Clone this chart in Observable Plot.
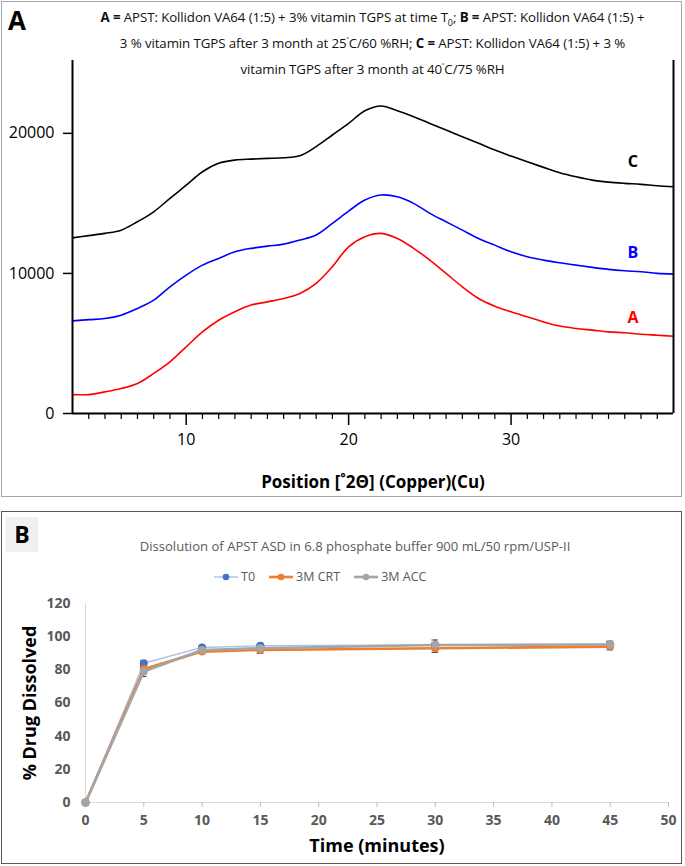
<!DOCTYPE html>
<html><head><meta charset="utf-8">
<script src="https://cdn.jsdelivr.net/npm/d3@7"></script>
<script src="https://cdn.jsdelivr.net/npm/@observablehq/plot@0.6"></script>
<style>
body{margin:0;background:#fff;font-family:"Open Sans",sans-serif;}
#page{position:relative;width:685px;height:866px;overflow:hidden;background:#fff;}
.abs{position:absolute;}
#boxA{left:1px;top:1px;width:679px;height:494px;border:1.5px solid #a6a6a6;}
#boxB{left:1px;top:511px;width:679px;height:351px;border:1.5px solid #595959;}
#letterA{left:8px;top:2px;font:bold 26px "Open Sans",sans-serif;color:#000;}
#letterB{left:6px;top:517px;width:32px;height:35px;background:#f0f0f0;font:bold 23px "Open Sans",sans-serif;color:#000;text-align:center;line-height:35px;}
.tA{left:60px;width:625px;text-align:center;font-size:13.3px;color:#111;white-space:nowrap;letter-spacing:-0.1px;}
#titleB{left:60px;width:590px;top:537px;text-align:center;font-size:13.1px;color:#595959;white-space:nowrap;letter-spacing:0px;}
#legendB{left:214px;top:568px;display:flex;gap:14px;font-size:12.5px;color:#595959;}
#legendB .it{display:flex;align-items:center;gap:3px;}
svg{overflow:visible;}
</style>
</head><body>
<div id="page">
  <div id="boxA" class="abs"></div>
  <div id="boxB" class="abs"></div>
  <div id="chartA" class="abs" style="left:0;top:0;"></div>
  <div id="chartB" class="abs" style="left:0;top:512px;"></div>
  <div id="letterA" class="abs">A</div>
  <div class="abs tA" style="top:8px;"><b>A =</b> APST: Kollidon VA64 (1:5) + 3% vitamin TGPS at time T<sub style="font-size:9px">0</sub>; <b>B =</b> APST: Kollidon VA64 (1:5) +</div>
  <div class="abs tA" style="top:34px;">3 % vitamin TGPS after 3 month at 25<sup style="font-size:8px">˚</sup>C/60 %RH; <b>C =</b> APST: Kollidon VA64 (1:5) + 3 %</div>
  <div class="abs tA" style="top:60px;">vitamin TGPS after 3 month at 40<sup style="font-size:8px">˚</sup>C/75 %RH</div>
  <div id="letterB" class="abs">B</div>
  <div id="titleB" class="abs">Dissolution of APST ASD in 6.8 phosphate buffer 900 mL/50 rpm/USP-II</div>
  <div id="legendB" class="abs"></div>
</div>
<script>
// ---------- Panel A: XRD data (2θ positions, counts) ----------
const angle = [3,4,5,6,7,8,9,10,11,12,13,14,15,16,17,18,19,20,21,22,23,24,25,26,27,28,29,30,31,32,33,34,35,36,37,38,39,40];
const countsA = [1350,1350,1545,1785,2140,2860,3690,4760,5830,6660,7260,7740,7970,8210,8570,9290,10480,11900,12620,12860,12500,11790,10950,10000,9040,8210,7660,7260,6900,6540,6240,6070,5950,5830,5760,5660,5590,5520];
const countsB = [6610,6700,6780,7020,7500,8090,9040,9880,10590,11070,11540,11790,11950,12090,12380,12740,13570,14450,15240,15600,15470,15000,14290,13690,13090,12500,12020,11540,11190,10950,10760,10590,10430,10290,10190,10120,10000,9950];
const countsC = [12540,12700,12860,13090,13690,14400,15360,16300,17260,17860,18090,18160,18210,18260,18400,19050,19880,20710,21610,21950,21610,21190,20710,20240,19760,19290,18810,18380,17970,17570,17190,16900,16660,16520,16430,16360,16260,16190];
const seriesA = ["A","B","C"];
const colorsA = ["#ff0000","#0000ff","#000000"];
const labelPosX = [37.5,37.5,37.5];
const labelPosY = [6800,11450,17950];
const yTicksA = [0,10000,20000];
const xMajorA = [10,20,30];
const xMinorA = [4,5,6,7,8,9,11,12,13,14,15,16,17,18,19,21,22,23,24,25,26,27,28,29,31,32,33,34,35,36,37,38,39];
const xDomainA = [3,40];
const yDomainA = [0,25200];
const xLabelA = "Position [˚2Θ] (Copper)(Cu)";

// ---------- Panel B: dissolution data ----------
const timeMin = [0,5,10,15,30,45];
const seriesB = ["T0","3M CRT","3M ACC"];
const meanT0  = [0,84,93.5,94.5,95,95.3];
const meanCRT = [0,80.5,91,92,93,94];
const meanACC = [0,79,92,93,95,95.3];
const sdT0  = [0,1.5,1,1,1.5,1.5];
const sdCRT = [0,2,1,2,2.5,2];
const sdACC = [0,3,1,1.5,3,2];
const lineColorsB = ["#a9c1e6","#ed7d31","#a5a5a5"];
const dotColorsB = ["#4472c4","#ed7d31","#a5a5a5"];
const lineWidthsB = [1.4,2.6,2.6];
const yTicksB = [0,20,40,60,80,100,120];
const xTicksB = [0,5,10,15,20,25,30,35,40,45,50];
const xLabelB = "Time (minutes)";
const yLabelB = "% Drug Dissolved";

const FONT = '"Open Sans", sans-serif';

// ---- build panel A ----
const countsAll = [countsA, countsB, countsC];
const xrd = [];
seriesA.forEach((s, k) => angle.forEach((a, i) => xrd.push({a, v: countsAll[k][i], s})));
const lbls = seriesA.map((s, k) => ({s, x: labelPosX[k], y: labelPosY[k], c: colorsA[k]}));

const plotA = Plot.plot({
  width: 685, height: 500,
  marginLeft: 72, marginRight: 12, marginTop: 60, marginBottom: 87,
  x: {domain: xDomainA},
  y: {domain: yDomainA},
  color: {domain: seriesA, range: colorsA},
  style: {fontFamily: FONT, fontSize: "16px", color: "#000", background: "transparent"},
  marks: [
    Plot.line(xrd, {x: "a", y: "v", z: "s", stroke: "s", strokeWidth: 1.6, curve: "catmull-rom"}),
    Plot.axisY({ticks: yTicksA, tickSize: 9, tickPadding: 9, strokeWidth: 1.5, tickFormat: d => String(d), label: null}),
    Plot.axisX({ticks: xMinorA, tickSize: 6, strokeWidth: 1.2, tickFormat: () => "", label: null}),
    Plot.axisX({ticks: xMajorA, tickSize: 12, tickPadding: 8, strokeWidth: 1.5, label: null}),
    Plot.ruleX(xDomainA, {strokeWidth: 2}),
    Plot.ruleY([yDomainA[0]], {strokeWidth: 2}),
    Plot.text(lbls, {x: "x", y: "y", text: "s", fill: "c", fontWeight: "bold", fontSize: 16}),
    Plot.text([xLabelA], {frameAnchor: "bottom", dy: 74, fontWeight: "bold", fontSize: 17})
  ]
});
document.getElementById("chartA").appendChild(plotA);

// ---- build panel B ----
const means = [meanT0, meanCRT, meanACC];
const sds = [sdT0, sdCRT, sdACC];
const diss = [];
seriesB.forEach((s, k) => timeMin.forEach((t, i) => diss.push({t, m: means[k][i], sd: sds[k][i], s})));
const errs = diss.filter(d => d.sd > 0);
const capHalf = 0.28;

const marksB = [
  Plot.ruleX([0], {stroke: "#d9d9d9", strokeWidth: 1}),
  Plot.ruleY([0], {stroke: "#d9d9d9", strokeWidth: 1}),
  Plot.axisY({ticks: yTicksB, tickSize: 0, tickPadding: 15, color: "#595959", fontWeight: "bold", fontSize: 14, label: null}),
  Plot.axisX({ticks: xTicksB, tickSize: 5, stroke: "#bfbfbf", tickFormat: () => "", label: null}),
  Plot.axisX({ticks: xTicksB, tickSize: 0, tickPadding: 13, color: "#595959", fontWeight: "bold", fontSize: 14, label: null}),
  Plot.ruleX(errs, {x: "t", y1: d => d.m - d.sd, y2: d => d.m + d.sd, stroke: "#404040", strokeWidth: 1}),
  Plot.ruleY(errs, {y: d => d.m - d.sd, x1: d => d.t - capHalf, x2: d => d.t + capHalf, stroke: "#404040", strokeWidth: 1}),
  Plot.ruleY(errs, {y: d => d.m + d.sd, x1: d => d.t - capHalf, x2: d => d.t + capHalf, stroke: "#404040", strokeWidth: 1})
];
seriesB.forEach((s, k) => {
  marksB.push(Plot.line(diss.filter(d => d.s === s), {x: "t", y: "m", stroke: lineColorsB[k], strokeWidth: lineWidthsB[k]}));
});
seriesB.forEach((s, k) => {
  marksB.push(Plot.dot(diss.filter(d => d.s === s), {x: "t", y: "m", r: 4, fill: dotColorsB[k], stroke: null}));
});
marksB.push(Plot.text([yLabelB], {frameAnchor: "left", textAnchor: "middle", dx: -55, rotate: -90, fontWeight: "bold", fontSize: 18, fill: "#000"}));
marksB.push(Plot.text([xLabelB], {frameAnchor: "bottom", dy: 49, fontWeight: "bold", fontSize: 18, fill: "#000"}));

const plotB = Plot.plot({
  width: 685, height: 352,
  marginLeft: 85, marginRight: 17, marginTop: 91, marginBottom: 62,
  x: {domain: [0, 50]},
  y: {domain: [0, 120]},
  style: {fontFamily: FONT, fontSize: "13px", color: "#595959", background: "transparent"},
  marks: marksB
});
document.getElementById("chartB").appendChild(plotB);

// ---- legend B ----
const leg = document.getElementById("legendB");
seriesB.forEach((s, k) => {
  const it = document.createElement("div");
  it.className = "it";
  it.innerHTML = `<svg width="24" height="10" viewBox="0 0 24 10"><line x1="0" x2="24" y1="5" y2="5" stroke="${lineColorsB[k]}" stroke-width="${lineWidthsB[k]}"/><circle cx="12" cy="5" r="3.3" fill="${dotColorsB[k]}"/></svg><span>${s}</span>`;
  leg.appendChild(it);
});
</script>
</body></html>
